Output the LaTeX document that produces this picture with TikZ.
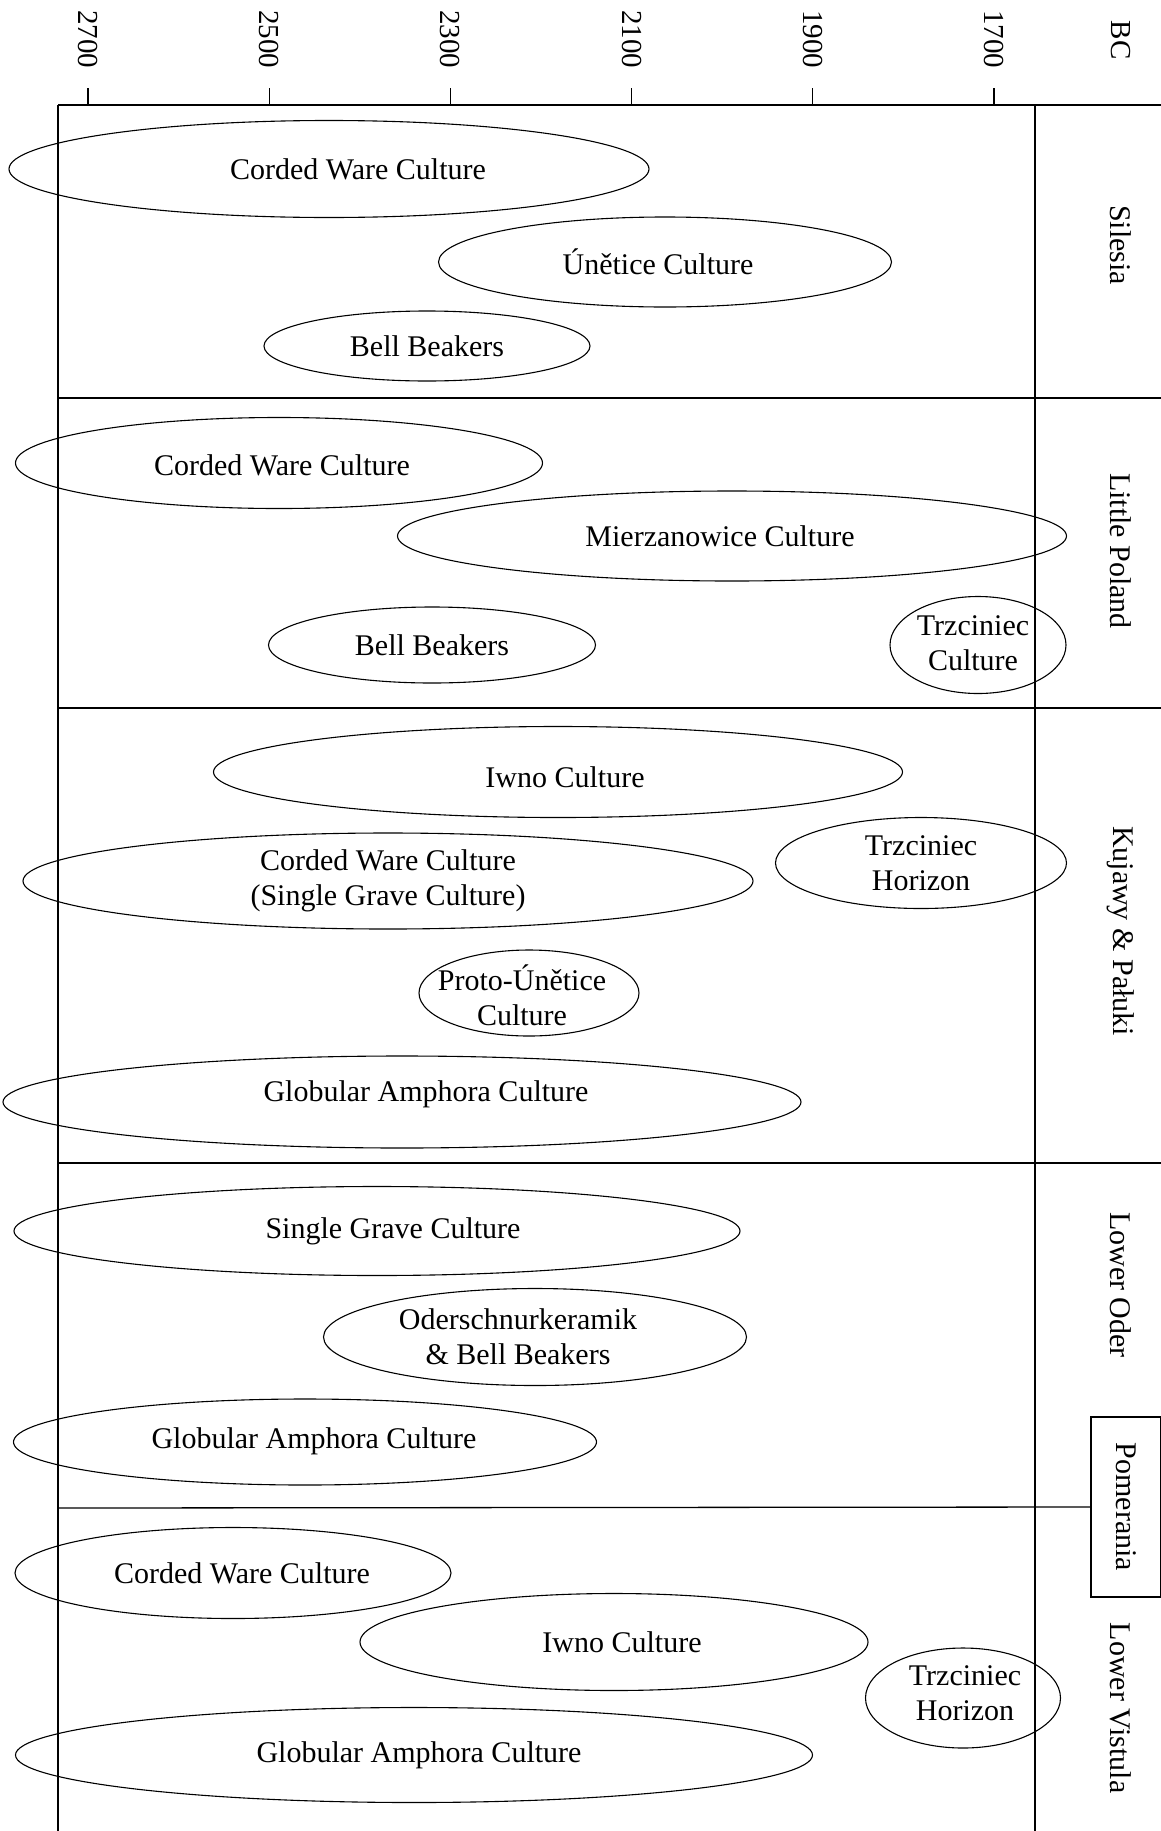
\documentclass[tikz,border=0pt]{standalone}
\usepackage{fontspec}
\setmainfont{Liberation Serif}
\usetikzlibrary{shapes.geometric}

\tikzset{
  culture/.style={draw, ellipse, line width=1.1pt, inner sep=0pt},
  region/.style={rotate=-90},
  yearlbl/.style={rotate=-90, font=\fontsize{29}{35}\selectfont},
  rule/.style={line width=1.3pt},
}

\begin{document}
\begin{tikzpicture}[x=1pt, y=-1pt, font=\fontsize{30}{35}\selectfont,
  every label/.append style={align=center}]
  \useasboundingbox (0,0) rectangle (1161,1831);
  % time axis
  \foreach \yr in {2700,2500,...,1700} {
    \pgfmathsetmacro\xx{88+(2700-\yr)*0.906}
    \node[yearlbl] (y\yr) at (\xx,39) {\yr};
    \draw[rule] (\xx,88) -- (\xx,105);
  }
  \node[yearlbl] (bc) at (1121,40) {BC};
  % frame
  \draw[rule] (58,105) -- (58,1831);
  \draw[rule] (1035,105) -- (1035,1831);
  \draw[rule] (58,105) -- (1161,105);
  \draw[rule] (58,398) -- (1161,398);
  \draw[rule] (58,708) -- (1161,708);
  \draw[rule] (58,1163) -- (1161,1163);
  % regions
  \node[region] (sil) at (1121,245) {Silesia};
  \node[region] (lp) at (1121,551) {Little Poland};
  \node[region] (kp) at (1121,931) {Kujawy \& Pałuki};
  \node[region] (lo) at (1121,1285) {Lower Oder};
  \node[region, draw, rule, minimum width=180pt, minimum height=70pt] (pom) at (1126,1507) {Pomerania};
  \node[region] (lv) at (1121,1708) {Lower Vistula};
  \draw[rule] (58,1508) -- (pom.south);

  % Silesia
  \node[culture, minimum width=640pt, minimum height=97pt, label={[xshift=29pt]center:Corded Ware Culture}] (s1) at (329,169) {};
  \node[culture, minimum width=453pt, minimum height=90pt, label={[xshift=-7pt]center:Únětice Culture}] (s2) at (665,262) {};
  \node[culture, minimum width=326pt, minimum height=70pt, label={center:Bell Beakers}] (s3) at (427,346) {};
  % Little Poland
  \node[culture, minimum width=527pt, minimum height=91pt, label={[xshift=3pt, yshift=-2pt]center:Corded Ware Culture}] (l1) at (279,463) {};
  \node[culture, minimum width=669pt, minimum height=90pt, label={[xshift=-12pt]center:Mierzanowice Culture}] (l2) at (732,536) {};
  \node[culture, minimum width=327pt, minimum height=76pt, label={center:Bell Beakers}] (l3) at (432,645) {};
  \node[culture, minimum width=176pt, minimum height=97pt, label={[xshift=-5pt, yshift=2pt]center:Trzciniec\\Culture}] (l4) at (978,645) {};
  % Kujawy & Paluki
  \node[culture, minimum width=689pt, minimum height=91pt, label={[xshift=7pt, yshift=-5pt]center:Iwno Culture}] (k1) at (558,772) {};
  \node[culture, minimum width=730pt, minimum height=96pt, label={center:Corded Ware Culture\\(Single Grave Culture)}] (k2) at (388,881) {};
  \node[culture, minimum width=291pt, minimum height=91pt, label={center:Trzciniec\\Horizon}] (k3) at (921,863) {};
  \node[culture, minimum width=220pt, minimum height=86pt, label={[xshift=-7pt, yshift=-2pt]center:Proto-Únětice\\Culture}] (k4) at (529,993) {};
  \node[culture, minimum width=798pt, minimum height=92pt, label={[xshift=24pt, yshift=8pt]center:Globular Amphora Culture}] (k5) at (402,1102) {};
  % Lower Oder
  \node[culture, minimum width=726pt, minimum height=89pt, label={[xshift=16pt]center:Single Grave Culture}] (o1) at (377,1231) {};
  \node[culture, minimum width=423pt, minimum height=97pt, label={[xshift=-17pt]center:Oderschnurkeramik\\\& Bell Beakers}] (o2) at (535,1337) {};
  \node[culture, minimum width=583pt, minimum height=86pt, label={[xshift=9pt, yshift=1pt]center:Globular Amphora Culture}] (o3) at (305,1442) {};
  % Lower Vistula
  \node[culture, minimum width=436pt, minimum height=91pt, label={[xshift=9pt]center:Corded Ware Culture}] (v1) at (233,1573) {};
  \node[culture, minimum width=508pt, minimum height=97pt, label={[xshift=8pt]center:Iwno Culture}] (v2) at (614,1642) {};
  \node[culture, minimum width=195pt, minimum height=100pt, label={[xshift=2pt, yshift=5pt]center:Trzciniec\\Horizon}] (v3) at (963,1698) {};
  \node[culture, minimum width=797pt, minimum height=95pt, label={[xshift=5pt]center:Globular Amphora Culture}] (v4) at (414,1755) {};
\end{tikzpicture}
\end{document}
